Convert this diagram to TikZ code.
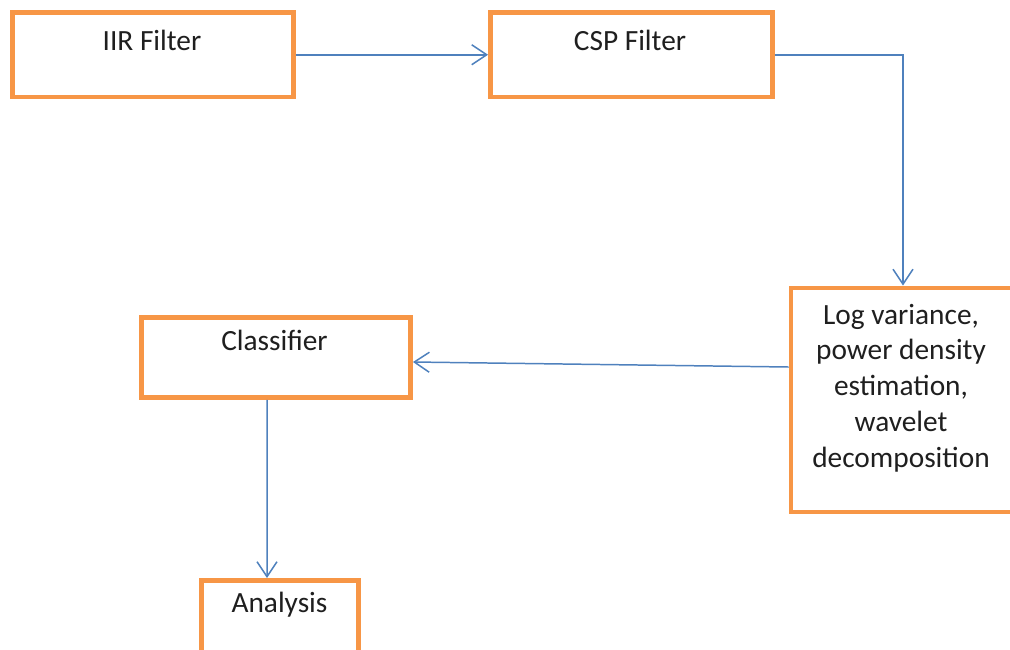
\documentclass[tikz,border=0pt]{standalone}
\usepackage{fontspec}
\setmainfont{Carlito}
\usetikzlibrary{arrows.meta}
\definecolor{boxorange}{HTML}{F79646}
\definecolor{lineblue}{HTML}{4F81BD}
\definecolor{textgray}{HTML}{1F1F1F}
\begin{document}
\begin{tikzpicture}[fbox/.style = {shape = rectangle,
                                   draw = boxorange,
                                   line width = 2.8pt,
                                   inner sep = 0pt},
                    flabel/.style = {color = textgray,
                                     inner sep = 0pt,
                                     align = center,
                                     font = \fontsize{16.7}{20.4}\selectfont},
                    farrow/.style = {draw = lineblue,
                                     line width = 0.85pt,
                                     -{Straight Barb[length=0.3cm,width=0.4cm]}}]
		\useasboundingbox (0,0) rectangle (20.2,-12.98);
		% boxes
		\node[fbox, minimum width = 5.62cm, minimum height = 1.69cm] (iir) at (3.06,-1.095) {};
		\node[fbox, minimum width = 5.64cm, minimum height = 1.69cm] (csp) at (12.63,-1.095) {};
		\node[fbox, minimum width = 4.48cm, minimum height = 4.48cm] (feat) at (18.06,-8.0) {};
		\node[fbox, minimum width = 5.38cm, minimum height = 1.60cm] (cls) at (5.52,-7.15) {};
		\node[fbox, minimum width = 3.14cm, minimum height = 1.59cm] (ana) at (5.60,-12.405) {};
		% texts
		\node[flabel, anchor = base] (iirtext) at (3.04,-1.00) {IIR Filter};
		\node[flabel, anchor = base] (csptext) at (12.60,-1.00) {CSP Filter};
		\node[flabel] (feattext) at (18.02,-7.76) {Log variance,\\power density\\estimation,\\wavelet\\decomposition};
		\node[flabel, anchor = base] (clstext) at (5.49,-7.00) {Classifier};
		\node[flabel, anchor = base] (anatext) at (5.59,-12.24) {Analysis};
		% connectors
		\draw[farrow] (iir) -- (csp);
		\draw[farrow] (csp.east) -| (feat.north);
		\draw[farrow] ([yshift = 0.66cm]feat.west) -- ([yshift = -0.09cm]cls.east);
		\draw[farrow] ([xshift = -0.18cm]cls.south) -- ([xshift = -0.26cm]ana.north);
	\end{tikzpicture}
\end{document}
